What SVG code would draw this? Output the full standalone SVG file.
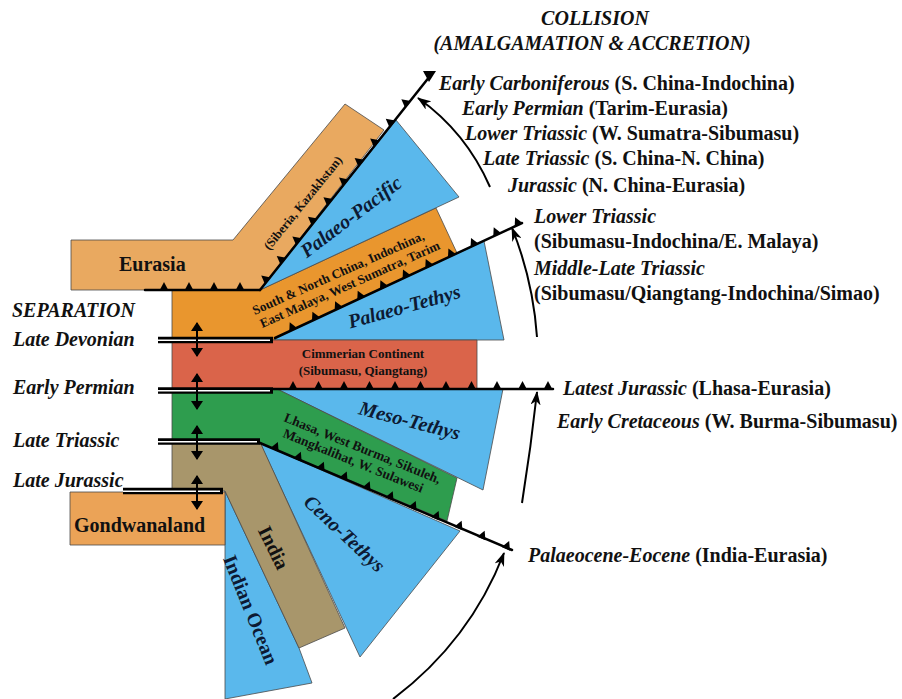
<svg xmlns="http://www.w3.org/2000/svg" xmlns:xlink="http://www.w3.org/1999/xlink" width="902" height="699" viewBox="0 0 902 699">
<style>
.blk{stroke:#4a4a4a;stroke-width:0.8;stroke-linejoin:round}
.eur{fill:#E9A960}
.sch{fill:#E9962E}
.sea{fill:#5AB8EC}
.cim{fill:#DA644A}
.grn{fill:#2E9D4E}
.ind{fill:#A8966B}
.gon{fill:#EBA357}
.sub{stroke:#000;stroke-width:2.5;fill:none;stroke-linecap:round}
.arc{stroke:#000;stroke-width:2;fill:none;marker-end:url(#ah)}
.sep{stroke:#000;stroke-width:2;marker-start:url(#th);marker-end:url(#th)}
.dbl{stroke:#000;stroke-width:6.5}
.dblw{stroke:#fff;stroke-width:1.6}
text{font-family:"Liberation Serif","Times New Roman",serif;font-weight:bold;fill:#111}
.big{font-size:20px}
.it{font-style:italic}
.sm{font-size:13px}
.sea-t{font-size:20px;font-style:italic;fill:#0d1a33}
</style>
<defs>
<polygon id="tooth" points="-4.5,0.5 4.5,0.5 0,-8" fill="#000"/>
<marker id="ah" viewBox="0 0 14 10" refX="13" refY="5" markerWidth="14" markerHeight="10" markerUnits="userSpaceOnUse" orient="auto">
<path d="M0,0 L14,5 L0,10 L4,5 z" fill="#000"/>
</marker>
<marker id="th" viewBox="0 0 9 12" refX="8" refY="6" markerWidth="9" markerHeight="12" markerUnits="userSpaceOnUse" orient="auto-start-reverse">
<path d="M0,0 L9,6 L0,12 z" fill="#000"/>
</marker>
</defs>
<rect width="902" height="699" fill="#fff"/>

<g id="eurasia">
<polygon class="blk eur" points="71,240 233,240 345,104 384,130 260,290 71,290"/>
<text class="big" x="119" y="271">Eurasia</text>
<text class="sm" transform="translate(303,203) rotate(-51)" x="0" y="4" text-anchor="middle" style="font-size:12.5px">(Siberia, Kazakhstan)</text>
</g>

<g id="south-china">
<polygon class="blk sch" points="172,290 260,290 436,208 457,253 275,338 275,340 172,340"/>
<g transform="translate(340,277) rotate(-24)" class="sm">
<text x="0" y="0" text-anchor="middle">South &amp; North China, Indochina,</text>
<text x="6" y="15" text-anchor="middle">East Malaya, West Sumatra, Tarim</text>
</g>
</g>

<g id="palaeo-pacific">
<polygon class="blk sea" points="260,290 396,120 459,197"/>
<text class="sea-t" transform="translate(355,222) rotate(-37)" text-anchor="middle">Palaeo-Pacific</text>
</g>

<g id="palaeo-tethys">
<polygon class="blk sea" points="275,338 484,241 504,340 275,340"/>
<text class="sea-t" transform="translate(406,313) rotate(-15.5)" text-anchor="middle">Palaeo-Tethys</text>
</g>

<g id="cimmerian">
<rect class="blk cim" x="172" y="340" width="305" height="49"/>
<text class="sm" x="363" y="358" text-anchor="middle">Cimmerian Continent</text>
<text class="sm" x="363" y="375" text-anchor="middle">(Sibumasu, Qiangtang)</text>
</g>

<g id="meso-tethys">
<polygon class="blk sea" points="277,389 503,389 483,490"/>
<text class="sea-t" transform="translate(408,427) rotate(14.5)" text-anchor="middle">Meso-Tethys</text>
</g>

<g id="lhasa">
<polygon class="blk grn" points="172,389 277,389 457,478 447,521 260,443 172,443"/>
<g transform="translate(283,421) rotate(22)" class="sm" style="font-size:13.5px">
<text x="0" y="0">Lhasa, West Burma, Sikuleh,</text>
<text x="5" y="15">Mangkalihat, W. Sulawesi</text>
</g>
</g>

<g id="indian-ocean">
<polygon class="blk sea" points="225,491 299,648 312,683 225,699"/>
<text class="big" transform="translate(250,610) rotate(68)" text-anchor="middle" y="6" style="fill:#0d1a33">Indian Ocean</text>
</g>

<g id="ceno-tethys">
<polygon class="blk sea" points="260,443 460,531 360,657"/>
<text class="sea-t" transform="translate(344,534) rotate(43)" text-anchor="middle" y="6">Ceno-Tethys</text>
</g>

<g id="india">
<polygon class="blk ind" points="172,442 260,442 345,628 299,648 225,491 172,491"/>
<text class="big" transform="translate(273,548) rotate(64)" text-anchor="middle" y="6">India</text>
</g>

<g id="gondwanaland">
<rect class="blk gon" x="70" y="492" width="155" height="53"/>
<text class="big" x="74" y="532">Gondwanaland</text>
</g>

<g id="connectors">
<!-- subduction zones -->
<path class="sub" d="M260,290 L430,76"/>
<path class="sub" d="M145,290 L260,290"/>
<path class="sub" d="M275,338 L522,223"/>
<path class="sub" d="M273,389 L553,389"/>
<path class="sub" d="M260,443 L512,550"/>
<g id="teeth-pacific">
<use xlink:href="#tooth" transform="translate(267.5,280.6) rotate(-51.5)"/>
<use xlink:href="#tooth" transform="translate(283,261) rotate(-51.5)"/>
<use xlink:href="#tooth" transform="translate(298.6,241.4) rotate(-51.5)"/>
<use xlink:href="#tooth" transform="translate(314.2,221.8) rotate(-51.5)"/>
<use xlink:href="#tooth" transform="translate(329.7,202.2) rotate(-51.5)"/>
<use xlink:href="#tooth" transform="translate(345.3,182.6) rotate(-51.5)"/>
<use xlink:href="#tooth" transform="translate(360.9,163) rotate(-51.5)"/>
<use xlink:href="#tooth" transform="translate(376.4,143.4) rotate(-51.5)"/>
<use xlink:href="#tooth" transform="translate(392,123.8) rotate(-51.5)"/>
<use xlink:href="#tooth" transform="translate(407.6,104.2) rotate(-51.5)"/>
<polygon points="423,71 436,71 429,82" fill="#000"/>
</g>
<g id="teeth-eurasia">
<use xlink:href="#tooth" transform="translate(164,290)"/>
<use xlink:href="#tooth" transform="translate(189,290)"/>
<use xlink:href="#tooth" transform="translate(214,290)"/>
<use xlink:href="#tooth" transform="translate(240,290)"/>
</g>
<g id="teeth-palaeo-tethys">
<use xlink:href="#tooth" transform="translate(293.1,329.6) rotate(-25)"/>
<use xlink:href="#tooth" transform="translate(315.8,319) rotate(-25)"/>
<use xlink:href="#tooth" transform="translate(338.5,308.5) rotate(-25)"/>
<use xlink:href="#tooth" transform="translate(361.1,297.9) rotate(-25)"/>
<use xlink:href="#tooth" transform="translate(383.8,287.4) rotate(-25)"/>
<use xlink:href="#tooth" transform="translate(406.4,276.8) rotate(-25)"/>
<use xlink:href="#tooth" transform="translate(429.1,266.3) rotate(-25)"/>
<use xlink:href="#tooth" transform="translate(451.8,255.7) rotate(-25)"/>
<use xlink:href="#tooth" transform="translate(474.4,245.2) rotate(-25)"/>
<use xlink:href="#tooth" transform="translate(497.1,234.6) rotate(-25)"/>
<use xlink:href="#tooth" transform="translate(518.5,224.6) rotate(-25)"/>
</g>
<g id="teeth-meso">
<use xlink:href="#tooth" transform="translate(293,389)"/>
<use xlink:href="#tooth" transform="translate(318.5,389)"/>
<use xlink:href="#tooth" transform="translate(344,389)"/>
<use xlink:href="#tooth" transform="translate(369.5,389)"/>
<use xlink:href="#tooth" transform="translate(395,389)"/>
<use xlink:href="#tooth" transform="translate(420.5,389)"/>
<use xlink:href="#tooth" transform="translate(446,389)"/>
<use xlink:href="#tooth" transform="translate(471.5,389)"/>
<use xlink:href="#tooth" transform="translate(497,389)"/>
<use xlink:href="#tooth" transform="translate(522.5,389)"/>
<use xlink:href="#tooth" transform="translate(548,389)"/>
</g>
<g id="teeth-ceno">
<use xlink:href="#tooth" transform="translate(274.7,449.3) rotate(23.2)"/>
<use xlink:href="#tooth" transform="translate(297.7,459.2) rotate(23.2)"/>
<use xlink:href="#tooth" transform="translate(320.7,469) rotate(23.2)"/>
<use xlink:href="#tooth" transform="translate(343.6,478.9) rotate(23.2)"/>
<use xlink:href="#tooth" transform="translate(366.6,488.7) rotate(23.2)"/>
<use xlink:href="#tooth" transform="translate(389.6,498.6) rotate(23.2)"/>
<use xlink:href="#tooth" transform="translate(412.6,508.4) rotate(23.2)"/>
<use xlink:href="#tooth" transform="translate(435.5,518.3) rotate(23.2)"/>
<use xlink:href="#tooth" transform="translate(458.5,528.1) rotate(23.2)"/>
<use xlink:href="#tooth" transform="translate(481.5,538) rotate(23.2)"/>
<use xlink:href="#tooth" transform="translate(506,548.4) rotate(23.2)"/>
</g>
<!-- separation lines -->
<g id="separation">
<line class="dbl" x1="158" y1="340" x2="273" y2="340"/>
<line class="dblw" x1="158" y1="340.3" x2="270" y2="340.3"/>
<line class="dbl" x1="158" y1="390.5" x2="273" y2="390.5"/>
<line class="dblw" x1="158" y1="390.8" x2="270" y2="390.8"/>
<line class="dbl" x1="158" y1="441.5" x2="260" y2="441.5"/>
<line class="dblw" x1="158" y1="441.8" x2="257" y2="441.8"/>
<line class="dbl" x1="123" y1="491" x2="223" y2="491"/>
<line class="dblw" x1="123" y1="491.3" x2="220" y2="491.3"/>
<line class="sep" x1="197" y1="323" x2="197" y2="356"/>
<line class="sep" x1="197" y1="374" x2="197" y2="409"/>
<line class="sep" x1="197" y1="426" x2="197" y2="459"/>
<line class="sep" x1="197" y1="476" x2="197" y2="509"/>
</g>
<!-- collision arrows -->
<path class="arc" d="M490,187 Q466,132 418,98"/>
<path class="arc" d="M537,337 Q533,280 512,228"/>
<path class="arc" d="M522,503 Q531,447 537,392"/>
<path class="arc" d="M393,699 Q470,641 504,553"/>
</g>

<g id="labels-separation" class="big it">
<text x="12" y="317">SEPARATION</text>
<text x="13" y="346">Late Devonian</text>
<text x="13" y="394">Early Permian</text>
<text x="13" y="447">Late Triassic</text>
<text x="13" y="487">Late Jurassic</text>
</g>

<g id="labels-collision" class="big">
<text class="it" x="595" y="25" text-anchor="middle">COLLISION</text>
<text class="it" x="592" y="50" text-anchor="middle">(AMALGAMATION &amp; ACCRETION)</text>
<text x="439" y="90"><tspan class="it">Early Carboniferous</tspan> (S. China-Indochina)</text>
<text x="462" y="115"><tspan class="it">Early Permian</tspan> (Tarim-Eurasia)</text>
<text x="465" y="140"><tspan class="it">Lower Triassic</tspan> (W. Sumatra-Sibumasu)</text>
<text x="483" y="165"><tspan class="it">Late Triassic</tspan> (S. China-N. China)</text>
<text x="508" y="192"><tspan class="it">Jurassic</tspan> (N. China-Eurasia)</text>
<text class="it" x="534" y="223">Lower Triassic</text>
<text x="534" y="248">(Sibumasu-Indochina/E. Malaya)</text>
<text class="it" x="534" y="275">Middle-Late Triassic</text>
<text x="534" y="300">(Sibumasu/Qiangtang-Indochina/Simao)</text>
<text x="563" y="395"><tspan class="it">Latest Jurassic</tspan> (Lhasa-Eurasia)</text>
<text x="557" y="428"><tspan class="it">Early Cretaceous</tspan> (W. Burma-Sibumasu)</text>
<text x="528" y="562"><tspan class="it">Palaeocene-Eocene</tspan> (India-Eurasia)</text>
</g>
</svg>
